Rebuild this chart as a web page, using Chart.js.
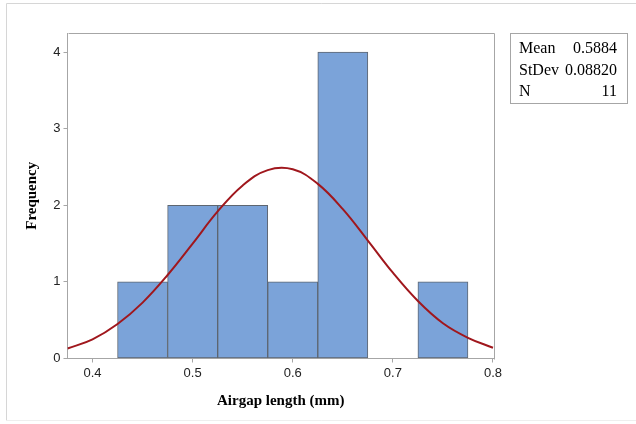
<!DOCTYPE html>
<html>
<head>
<meta charset="utf-8">
<script src="https://cdn.jsdelivr.net/npm/chart.js@4.4.1/dist/chart.umd.min.js"></script>
<style>
  html, body { margin: 0; padding: 0; background: #ffffff; }
  #wrap { width: 636px; height: 424px; position: relative; }
</style>
</head>
<body>
<div id="wrap"><canvas id="c" width="636" height="424"></canvas></div>
<script>
// ---- data ----
const binCenters   = [0.45, 0.50, 0.55, 0.60, 0.65, 0.70, 0.75];
const frequencies  = [1, 2, 2, 1, 4, 0, 1];
const curveX = [0.375, 0.400, 0.425, 0.450, 0.475, 0.500, 0.525, 0.550, 0.575,
                0.600, 0.625, 0.650, 0.675, 0.700, 0.725, 0.750, 0.775, 0.800];
const curveY = [0.13, 0.25, 0.45, 0.73, 1.09, 1.50, 1.92, 2.26, 2.46,
                2.47, 2.28, 1.95, 1.54, 1.12, 0.75, 0.46, 0.27, 0.14];
const xTickValues = [0.4, 0.5, 0.6, 0.7, 0.8];
const yTickValues = [0, 1, 2, 3, 4];
const statLabels = ['Mean', 'StDev', 'N'];
const statValues = ['0.5884', '0.08820', '11'];
const xTitle = 'Airgap length (mm)';
const yTitle = 'Frequency';

const barData = binCenters.map((x, i) => ({ x: x, y: frequencies[i] }));
const lineData = curveX.map((x, i) => ({ x: x, y: curveY[i] }));

const frameGray = '#a6a6a6';

const decorPlugin = {
  id: 'decor',
  beforeDraw(chart) {
    const ctx = chart.ctx;
    ctx.save();
    ctx.fillStyle = '#ffffff';
    ctx.fillRect(0, 0, chart.width, chart.height);
    // outer light frame
    ctx.strokeStyle = '#d6d6d6';
    ctx.lineWidth = 1;
    ctx.beginPath();
    ctx.moveTo(chart.width, 3.5);
    ctx.lineTo(6.5, 3.5);
    ctx.lineTo(6.5, 420.5);
    ctx.stroke();
    ctx.strokeStyle = '#eeeeee';
    ctx.beginPath();
    ctx.moveTo(6.5, 420.5);
    ctx.lineTo(chart.width, 420.5);
    ctx.stroke();
    ctx.restore();
  },
  afterDraw(chart) {
    const ctx = chart.ctx;
    const a = chart.chartArea;
    ctx.save();
    ctx.strokeStyle = frameGray;
    ctx.lineWidth = 1;
    ctx.beginPath();
    ctx.moveTo(Math.round(a.left) + 0.5, Math.round(a.top) + 0.5);
    ctx.lineTo(Math.round(a.right) + 0.5, Math.round(a.top) + 0.5);
    ctx.lineTo(Math.round(a.right) + 0.5, Math.round(a.bottom) + 0.5);
    ctx.stroke();
    // stats box
    const bx = Math.round(a.right) + 16.5, by = Math.round(a.top) + 0.5;
    const bw = 117, bh = 70;
    ctx.strokeStyle = frameGray;
    ctx.strokeRect(bx, by, bw, bh);
    ctx.fillStyle = '#000000';
    ctx.font = '16px "Liberation Serif"';
    ctx.textBaseline = 'alphabetic';
    for (let i = 0; i < statLabels.length; i++) {
      const yy = by + 19.5 + i * 21.7;
      ctx.textAlign = 'left';
      ctx.fillText(statLabels[i], bx + 8.5, yy);
      ctx.textAlign = 'right';
      ctx.fillText(statValues[i], bx + bw - 10.5, yy);
    }
    ctx.restore();
  }
};

const tickFont = { family: '"Liberation Sans", Arial, sans-serif', size: 13 };
const titleFont = { family: '"Liberation Serif", "Times New Roman", serif', size: 15, weight: 'bold' };

new Chart(document.getElementById('c'), {
  type: 'bar',
  data: {
    datasets: [
      {
        type: 'line',
        data: lineData,
        borderColor: '#a0171d',
        borderWidth: 2,
        pointRadius: 0,
        tension: 0.4,
        fill: false
      },
      {
        type: 'bar',
        data: barData,
        backgroundColor: '#7ba3d9',
        borderColor: '#5e6670',
        borderWidth: 1,
        borderSkipped: false,
        barPercentage: 1.0,
        categoryPercentage: 1.0
      }
    ]
  },
  options: {
    responsive: false,
    animation: false,
    devicePixelRatio: 1,
    layout: { padding: { left: 0, right: 142, top: 33, bottom: 0 } },
    plugins: { legend: { display: false }, tooltip: { enabled: false } },
    scales: {
      x: {
        type: 'linear',
        min: 0.375,
        max: 0.801,
        offset: false,
        grid: { display: true, drawOnChartArea: false, drawTicks: true, tickLength: 4, color: frameGray, offset: false },
        border: { display: true, color: frameGray },
        ticks: {
          font: tickFont, color: '#222222', padding: 3, maxRotation: 0,
          callback: (v) => Number(v).toFixed(1)
        },
        afterBuildTicks: (s) => { s.ticks = xTickValues.map(v => ({ value: v })); },
        afterFit: (s) => { s.height = 65.5; },
        title: { display: true, text: xTitle, font: titleFont, color: '#000000', padding: { top: 0, bottom: 14 } }
      },
      y: {
        type: 'linear',
        min: 0,
        max: 4.25,
        grid: { display: true, drawOnChartArea: false, drawTicks: true, tickLength: 4, color: frameGray },
        border: { display: true, color: frameGray },
        ticks: { font: tickFont, color: '#222222', padding: 3 },
        afterBuildTicks: (s) => { s.ticks = yTickValues.map(v => ({ value: v })); },
        afterFit: (s) => { s.width = 67.5; },
        title: { display: true, text: yTitle, font: titleFont, color: '#000000', padding: { top: 23.5, bottom: 0 } }
      }
    }
  },
  plugins: [decorPlugin]
});
</script>
</body>
</html>
